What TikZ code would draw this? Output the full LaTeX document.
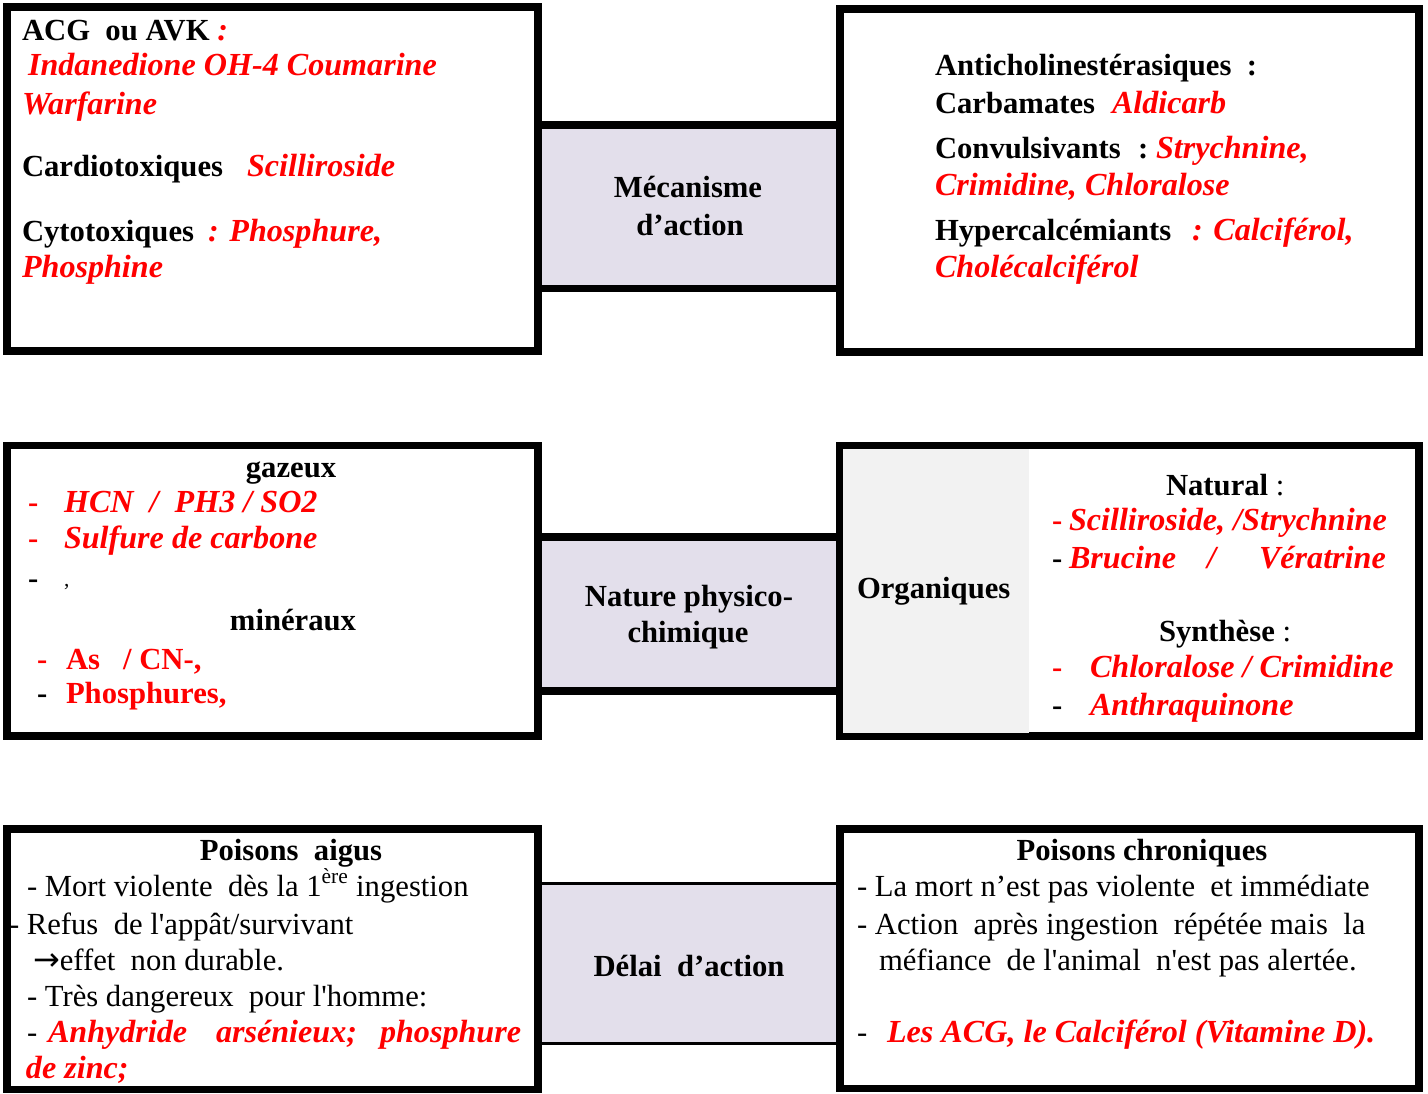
\documentclass[tikz,border=0pt]{standalone}
\usepackage{fontspec}
\newfontfamily\tnr{Liberation Serif}
\newfontfamily\djv{DejaVu Sans}
\definecolor{lav}{HTML}{E3DFEB}
\definecolor{gry}{HTML}{F2F2F2}
\newcommand\ri[1]{\textcolor{red}{\fontsize{24.1}{28}\selectfont\itshape #1}}
\newcommand\rb[1]{\textcolor{red}{#1}}
\begin{document}
\begin{tikzpicture}[x=0.75pt,y=-0.75pt,
  every node/.style={inner sep=0pt, outer sep=0pt},
  tb/.style={anchor=base west, font=\tnr\fontsize{23}{27}\selectfont\bfseries},
  tbc/.style={anchor=base, font=\tnr\fontsize{23}{27}\selectfont\bfseries},
  tr/.style={anchor=base west, font=\tnr\fontsize{23}{27}\selectfont},
  sidebox/.style={draw=black, line width=5.6pt, fill=white},
  midfill/.style={fill=lav, draw=none},
  midline/.style={line width=5.3pt},
  thinline/.style={line width=2.3pt}]
\useasboundingbox (0,0) rectangle (1428,1093);

% ---------- row 1 ----------
\path[midfill] (538,125) rectangle (840,288.5);
\coordinate (m1tl) at (538,125); \coordinate (m1tr) at (840,125);
\coordinate (m1bl) at (538,288.5); \coordinate (m1br) at (840,288.5);
\draw[midline] (m1tl) -- (m1tr); \draw[midline] (m1bl) -- (m1br);
\draw[sidebox] (7,7) rectangle (538,351);
\draw[sidebox] (840,9) rectangle (1419,352);

\node[tb] (acg) at (22,40) {ACG\ \ ou AVK \ri{:}};
\node[tb] (ind) at (28,75) {\ri{Indanedione OH-4 Coumarine}};
\node[tb] (warf) at (22,114) {\ri{Warfarine}};
\node[tb] (card) at (22,176) {Cardiotoxiques};
\node[tb] (scil) at (247,176) {\ri{Scilliroside}};
\node[tb] (cyto) at (22,241) {Cytotoxiques};
\node[tb] (phos) at (208,241) {\ri{: Phosphure,}};
\node[tb] (phosi) at (22,277) {\ri{Phosphine}};

\node[tbc] (mec1) at (688,197) {Mécanisme};
\node[tbc] (mec2) at (690,235) {d’action};

\node[tb] (anti) at (935,75) {Anticholinestérasiques\ \ :};
\node[tb] (carb) at (935,113) {Carbamates};
\node[tb] (ald) at (1112,113) {\ri{Aldicarb}};
\node[tb] (conv) at (935,158) {Convulsivants};
\node[tb] (convc) at (1138,158) {:};
\node[tb] (stry) at (1156,158) {\ri{Strychnine,}};
\node[tb] (crim) at (935,195) {\ri{Crimidine, Chloralose}};
\node[tb] (hyp) at (935,240) {Hypercalcémiants};
\node[tb] (calc) at (1192,240) {\ri{: Calciférol,}};
\node[tb] (chol) at (935,277) {\ri{Cholécalciférol}};

% ---------- row 2 ----------
\path[midfill] (538,537) rectangle (840,691);
\coordinate (m2tl) at (538,537); \coordinate (m2tr) at (840,537);
\coordinate (m2bl) at (538,691); \coordinate (m2br) at (840,691);
\draw[midline] (m2tl) -- (m2tr); \draw[midline] (m2bl) -- (m2br);
\draw[sidebox] (7,445.5) rectangle (538,736);
\draw[sidebox] (840,445.5) rectangle (1419,736);
\path[fill=gry] (843,448.5) rectangle (1029,733);

\node[tbc] (gaz) at (291,477) {gazeux};
\node[tb] (d1) at (28,512) {\rb{-}};
\node[tb] (hcn) at (64,512) {\ri{HCN\ \ /\ \ PH3 / SO2}};
\node[tb] (d2) at (28,548) {\rb{-}};
\node[tb] (sulf) at (64,548) {\ri{Sulfure de carbone}};
\node[tb] (d3) at (28,588) {-};
\node[tr] (comma) at (64,586) {\fontsize{16}{18}\selectfont ,};
\node[tbc] (min) at (293,630) {minéraux};
\node[tb] (d4) at (37,669) {\rb{-}};
\node[tb] (as) at (66,669) {\rb{As\ \ \ / CN-,}};
\node[tb] (d5) at (37,703) {-};
\node[tb] (phs) at (66,703) {\rb{Phosphures,}};

\node[tbc] (nat1) at (689,606) {Nature physico-};
\node[tbc] (nat2) at (688,642) {chimique};

\node[tb] (org) at (857,598) {Organiques};
\node[tb] (natu) at (1166,495) {Natural \mdseries :};
\node[tb] (d6) at (1052,530) {\rb{-}};
\node[tb] (scs) at (1069,530) {\ri{Scilliroside, /Strychnine}};
\node[tb] (d7) at (1052,568) {-};
\node[tb] (bru) at (1069,568) {\ri{Brucine}};
\node[tb] (sl1) at (1207,568) {\ri{/}};
\node[tb] (ver) at (1259,568) {\ri{Vératrine}};
\node[tb] (syn) at (1159,641) {Synthèse \mdseries :};
\node[tb] (d8) at (1052,677) {\rb{-}};
\node[tb] (chl) at (1090,677) {\ri{Chloralose / Crimidine}};
\node[tb] (d9) at (1052,715) {-};
\node[tb] (anth) at (1090,715) {\ri{Anthraquinone}};

% ---------- row 3 ----------
\path[midfill] (538,883.5) rectangle (840,1043.5);
\coordinate (m3tl) at (538,883.5); \coordinate (m3tr) at (840,883.5);
\coordinate (m3bl) at (538,1043.5); \coordinate (m3br) at (840,1043.5);
\draw[thinline] (m3tl) -- (m3tr); \draw[thinline] (m3bl) -- (m3br);
\draw[sidebox] (7,829) rectangle (538,1089.5);
\draw[sidebox] (840,829) rectangle (1419,1088.5);

\node[tbc] (del) at (689,976) {Délai\ \ d’action};

\node[tbc] (pa) at (291,860) {Poisons\ \ aigus};
\node[tr] (l1) at (27,896) {- Mort violente\ \ dès la 1\textsuperscript{ère} ingestion};
\node[tr] (l2) at (9,934) {- Refus\ \ de l'appât/survivant};
\node[tr] (l3) at (33,970) {{\djv\fontsize{24}{28}\selectfont →}effet\ \ non durable.};
\node[tr] (l4) at (27,1006) {- Très dangereux\ \ pour l'homme:};
\node[tr] (l5) at (27,1042) {-};
\node[tb] (anh) at (48,1042) {\ri{Anhydride}};
\node[tb] (ars) at (216,1042) {\ri{arsénieux;}};
\node[tb] (phz) at (380,1042) {\ri{phosphure}};
\node[tb] (zinc) at (26,1078) {\ri{de zinc;}};

\node[tbc] (pc) at (1142,860) {Poisons chroniques};
\node[tr] (r1) at (857,896) {- La mort n’est pas violente\ \ et immédiate};
\node[tr] (r2) at (857,934) {- Action\ \ après ingestion\ \ répétée mais\ \ la};
\node[tr] (r3) at (879,970) {méfiance\ \ de l'animal\ \ n'est pas alertée.};
\node[tr] (r4) at (857,1042) {-};
\node[tb] (acgv) at (887,1042) {\ri{Les ACG, le Calciférol (Vitamine D).}};
\end{tikzpicture}
\end{document}
